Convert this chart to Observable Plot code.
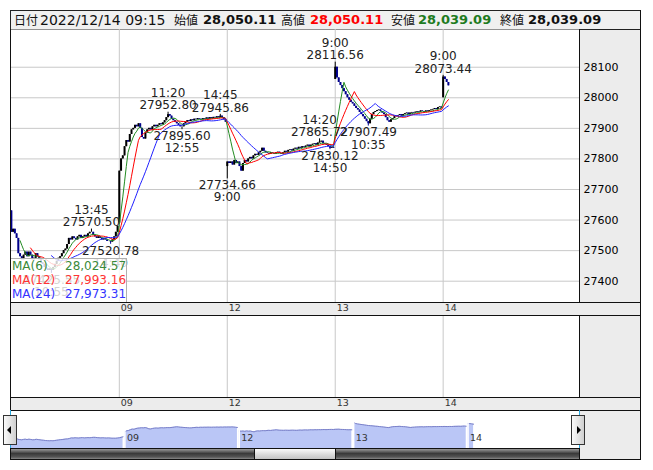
<!DOCTYPE html>
<html><head><meta charset="utf-8">
<script src="https://cdn.jsdelivr.net/npm/d3@7"></script>
<script src="https://cdn.jsdelivr.net/npm/@observablehq/plot@0.6"></script>
<style>
body{margin:0;background:#fff;font-family:"DejaVu Sans",Verdana,sans-serif;}
#root{position:relative;width:653px;height:470px;overflow:hidden;background:#fff;}
.a{position:absolute;box-sizing:border-box;}
.plot{position:absolute;}
</style></head><body><div id="root"></div>
<script>
// ---------- data ----------
const headerLabels = ["日付", "始値", "高値", "安値", "終値"];
const headerDate = "2022/12/14 09:15";
const headerValues = ["28,050.11", "28,050.11", "28,039.09", "28,039.09"];
const dayLabels = ["08", "09", "12", "13", "14"];
const dayOpens = [27630, 27590, 27775, 28060, 28000];
const close08 = [27560,27570,27555,27540,27490,27480,27470,27485,27495,27480,27495,27485,27470,27475,27490,27480,27470,27460,27455,27445,27440,27435,27440,27435,27445,27455,27465,27475,27480,27490,27500,
  27505,27520,27540,27535,27545,27540,27535,27545,27550,27540,27545,27550,27545,27555,27560,27560,27550,27545,27540,27545,27540,27535,27540,27535,27530,27530,27528,27535,27545,27560,27580];
const close09 = [27760,27800,27810,27840,27860,27855,27880,27895,27900,27910,27905,27915,27900,27870,27865,27885,27895,27900,27895,27905,27910,27905,27910,27915,27912,27918,27925,27935,27945,27940,27930,
  27925,27920,27915,27910,27905,27905,27915,27920,27925,27922,27928,27925,27930,27928,27932,27930,27928,27932,27930,27934,27930,27935,27932,27936,27934,27938,27935,27940,27935,27928,27920];
const close12 = [27790,27785,27790,27780,27795,27785,27790,27775,27760,27785,27795,27790,27800,27805,27800,27810,27815,27812,27820,27825,27835,27825,27820,27818,27815,27820,27818,27815,27820,27822,27818,
  27815,27820,27825,27822,27828,27830,27826,27832,27835,27832,27838,27835,27840,27838,27842,27845,27840,27845,27848,27850,27845,27852,27855,27858,27850,27848,27845,27840,27835,27838,27835];
const close13 = [28100,28065,28050,28040,28030,28020,28010,28000,27992,27985,27980,27972,27965,27960,27952,27945,27938,27930,27922,27915,27930,27945,27952,27955,27958,27960,27955,27950,27945,27935,27925,
  27920,27928,27932,27938,27940,27942,27945,27940,27945,27948,27950,27945,27950,27952,27950,27953,27955,27953,27957,27955,27953,27957,27955,27958,27960,27962,27965,27962,27968,27970,27965];
const close14 = [28068, 28060, 28050.11, 28039.09];
const highNotes = [["08","13:45",27570.50],["09","11:20",27952.80],["09","14:45",27945.86],["12","14:20",27865.72],["13","9:00",28116.56],["14","9:00",28073.44]];
const lowNotes = [["08","10:55",27425.55],["08","14:40",27520.78],["09","12:55",27895.60],["12","9:00",27734.66],["12","14:50",27830.12],["13","10:35",27907.49]];
const yTicks = [27400,27500,27600,27700,27800,27900,28000,28100];
const maPeriods = [6, 12, 24];
const maColors = ["#228b22", "#ff0000", "#2020ff"];
const maTextColors = ["#3a8a3a", "#ff3333", "#3333ff"];
const maLastValues = ["28,024.57", "27,993.16", "27,973.31"];

// ---------- build table ----------
function timeIndex(t){const [h,m]=t.split(":").map(Number);const mm=h*60+m;return mm<=690?(mm-540)/5:31+(mm-750)/5;}
const closesByDay=[close08,close09,close12,close13,close14];
const bars=[];const dayStarts=[];let n=0;let prev=null;
closesByDay.forEach((cl,k)=>{dayStarts.push({i:n,label:dayLabels[k]});cl.forEach((c,j)=>{const o=j===0?dayOpens[k]:prev;bars.push({i:n,day:dayLabels[k],open:o,close:c,high:Math.max(o,c),low:Math.min(o,c)});prev=c;n++;});});
const notes=[];
highNotes.forEach(([d,t,v])=>{const b=bars[dayStarts[dayLabels.indexOf(d)].i+timeIndex(t)];b.high=Math.max(b.high,v);notes.push({i:b.i,v,t,kind:"h"});});
lowNotes.forEach(([d,t,v])=>{const b=bars[dayStarts[dayLabels.indexOf(d)].i+timeIndex(t)];b.low=Math.min(b.low,v);notes.push({i:b.i,v,t,kind:"l"});});
bars.forEach(b=>b.col=b.close>=b.open?"#000000":"#00008b");
const maData=[];
maPeriods.forEach((p,k)=>{bars.forEach((b,idx)=>{if(idx>=p-1)maData.push({i:b.i,k,v:d3.mean(bars.slice(idx-p+1,idx+1),d=>d.close)});});});
const hi=notes.filter(d=>d.kind==="h"), lo=notes.filter(d=>d.kind==="l");
const gridDays=dayStarts.slice(1);

// ---------- page scaffolding ----------
const root=document.getElementById("root");
function box(l,t,w,h,style){const e=document.createElement("div");e.className="a";e.style.cssText=`left:${l}px;top:${t}px;width:${w}px;height:${h}px;`+(style||"");root.appendChild(e);return e;}
function txt(l,t,s,style){const e=document.createElement("div");e.className="a";e.style.cssText=`left:${l}px;top:${t}px;white-space:nowrap;`+(style||"");e.textContent=s;root.appendChild(e);return e;}

box(10,29,630,430,"background:#ececec;");
box(10,10,631,20,"background:#f0f0f0;border:1px solid #222;");
const hdrFont='font-family:"Noto Sans CJK JP";font-size:12px;line-height:18px;color:#111;';
const valFont='font-family:"DejaVu Sans";font-size:13px;font-weight:bold;line-height:18px;';
txt(14,10.5,headerLabels[0],hdrFont);
txt(40,10.5,headerDate,'font-family:"DejaVu Sans";font-size:14px;line-height:18px;color:#111;');
const lx=[174,281,391,500], vx=[203,310,418,528], vc=["#111","#ff0000","#1e7b1e","#111"];
for(let k=0;k<4;k++){txt(lx[k],10.5,headerLabels[k+1],hdrFont);txt(vx[k],10.5,headerValues[k],valFont+`color:${vc[k]};`);}

const fontStyle={background:"transparent",overflow:"visible",fontFamily:"DejaVu Sans",fontSize:"11px"};
const xMain={domain:[-0.5,326.3],axis:null};
function place(svg,l,t){svg.classList.add("plot");svg.style.left=l+"px";svg.style.top=t+"px";root.appendChild(svg);}

// main chart
const mainPlot=Plot.plot({width:630,height:273,marginLeft:0,marginRight:61,marginTop:0,marginBottom:0,style:fontStyle,
  x:xMain,
  y:{domain:[27330.3,28223.4],ticks:yTicks,tickFormat:d=>String(d),tickSize:0,tickPadding:4,axis:"right",label:null},
  marks:[
    Plot.frame({fill:"white",stroke:null}),
    Plot.ruleY(yTicks,{stroke:"#c8c8c8"}),
    Plot.ruleX(gridDays,{x:"i",stroke:"#c8c8c8"}),
    Plot.ruleX(bars,{x:"i",y1:"low",y2:"high",stroke:"col",strokeWidth:1}),
    Plot.ruleX(bars,{x:"i",y1:"open",y2:"close",stroke:"col",strokeWidth:2}),
    ...maPeriods.map((p,k)=>Plot.line(maData.filter(d=>d.k===k),{x:"i",y:"v",stroke:maColors[k],strokeWidth:1})),
    Plot.text(hi,{x:"i",y:"v",text:d=>d3.format(".2f")(d.v),dy:-6.6,fontSize:12,fill:"#222"}),
    Plot.text(hi,{x:"i",y:"v",text:"t",dy:-18.9,fontSize:12,fill:"#222"}),
    Plot.text(lo,{x:"i",y:"v",text:d=>d3.format(".2f")(d.v),dy:6.5,fontSize:12,fill:"#222"}),
    Plot.text(lo,{x:"i",y:"v",text:"t",dy:18.6,fontSize:12,fill:"#222"})
  ]});
place(mainPlot,10,29);

// date bands
function band(top){const p=Plot.plot({width:630,height:13,marginLeft:0,marginRight:61,marginTop:0,marginBottom:0,style:fontStyle,x:xMain,
  marks:[Plot.text(gridDays,{x:"i",text:"label",textAnchor:"start",dx:1.5,dy:-1.5,frameAnchor:"middle",fontSize:9.5,fill:"#333"})]});place(p,10,top);}
band(302);band(397);

// second panel
const sub=Plot.plot({width:630,height:82,marginLeft:0,marginRight:61,marginTop:0,marginBottom:0,style:fontStyle,x:xMain,
  marks:[Plot.frame({fill:"white",stroke:null}),Plot.ruleX(gridDays,{x:"i",stroke:"#c8c8c8"})]});
place(sub,10,315);

// navigator
const navMin=27155,navMax=28537;
const nav=Plot.plot({width:569,height:38,marginLeft:0,marginRight:0,marginTop:0,marginBottom:0,style:fontStyle,
  x:{domain:[0,308.4],axis:null},y:{domain:[navMin,navMax],axis:null},
  marks:[Plot.frame({fill:"white",stroke:null}),
    Plot.areaY(bars,{x:"i",y1:navMin,y2:"close",z:"day",fill:"#bac6f6"}),
    Plot.lineY(bars,{x:"i",y:"close",z:"day",stroke:"#7a80c8",strokeWidth:1}),
    Plot.ruleX(gridDays,{x:"i",stroke:"white",strokeWidth:1.5}),
    Plot.text(gridDays,{x:"i",text:"label",textAnchor:"start",dx:2,frameAnchor:"bottom",dy:-8,fontSize:9.5,fill:"#333"})]});
place(nav,10,410);

// legend
const leg=box(10,258,117,45,"background:rgba(255,255,255,0.8);border-top:1px solid #b0b0b0;border-right:1px solid #b0b0b0;");
maPeriods.forEach((p,k)=>{txt(12,259+k*14,`MA(${p})`,`font-size:12px;line-height:14px;color:${maTextColors[k]};`);txt(65,259+k*14,maLastValues[k],`font-size:12px;line-height:14px;color:${maTextColors[k]};`);});

// frame lines
const L="#111";
box(10,29,1,381,`background:${L};`);
box(640,10,1,450,`background:${L};`);
box(579,29,1,273,`background:${L};`);
box(579,315,1,82,`background:${L};`);
[302,315,397,410].forEach(y=>box(10,y,631,1,`background:${L};`));
box(10,410,1,38,"background:#29a8e0;");
box(579,410,1,38,"background:#29a8e0;");
// scrollbar
box(10,448,570,12,`border:1px solid ${L};background:linear-gradient(#9a9a9a,#3a3a3a 45%,#555 80%,#8a8a8a);`);
box(254,448,82,12,`border:1px solid ${L};background:linear-gradient(#fafafa,#d8d8d8 60%,#c4c4c4);`);
box(10,459,631,1,`background:${L};`);
// buttons
function btn(l,dir){const b=box(l,415,14,30,"border:1px solid #333;background:linear-gradient(to right,#fafafa,#cfcfcf);");
  const t=document.createElement("div");t.style.cssText="position:absolute;top:10px;width:0;height:0;border-top:4px solid transparent;border-bottom:4px solid transparent;"+(dir<0?"left:3px;border-right:4px solid #000;":"left:5px;border-left:4px solid #000;");b.appendChild(t);}
btn(3,-1);btn(571,1);
</script></body></html>
